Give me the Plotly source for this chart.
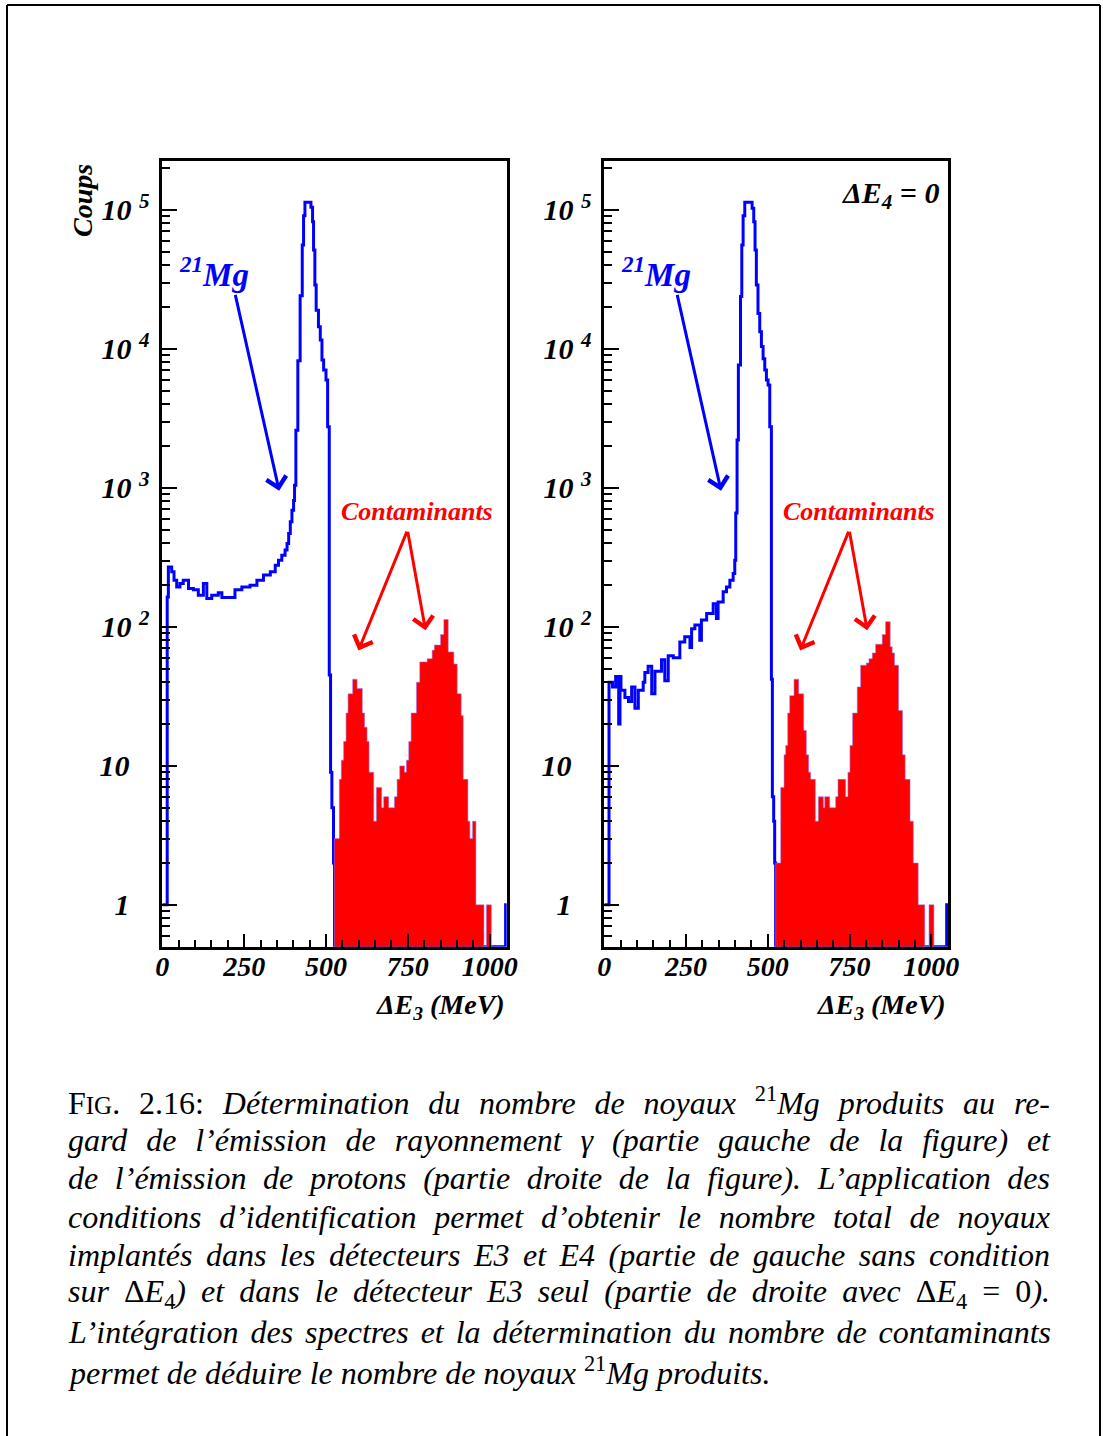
import numpy as np
import plotly.graph_objects as go

# ---- spectra: bin edges (MeV) and counts ----
# left panel : 21Mg implanted in E3 and E4 (no condition on dE4)
mg_all_edges = [0, 15, 18.5, 28.7, 35.8, 44, 54, 64, 80, 95,
                110, 125.5, 136, 151, 171, 182, 222, 243, 268, 289,
                309, 330, 345, 355, 365, 375, 381, 386, 391, 396,
                401, 404, 408, 414, 421, 427.5, 431.5, 435.7, 454, 459,
                462, 466, 470, 477, 482.6, 487.7, 492.8, 500, 505, 510,
                514, 518, 523, 526, 1048.6, 1054]
mg_all_counts = [1, 164, 270, 249, 217, 194, 205, 217, 189, 185,
                 169, 205, 160, 169, 176, 163, 185, 194, 199, 217,
                 236, 249, 278, 302, 328, 357, 398, 470, 570, 692,
                 813, 1047, 2600, 8220, 24150, 56000, 91000, 113600, 104500, 82400,
                 51500, 28800, 19000, 14450, 11600, 8320, 7050, 5970, 2755, 45,
                 9, 5, 2, 0, 1]
cont_all_edges = [525.4, 540.7, 546.8, 553.9, 561.3, 567.4, 581.5, 594.8, 611, 618,
                  625.4, 631.5, 645.8, 654, 670, 676.3, 691.6, 709, 717.2, 725.3,
                  739.6, 745.7, 752.8, 760, 776.3, 786.4, 809, 824.3, 831, 850,
                  860, 873.4, 890.6, 900.8, 913, 919.2, 933.5, 939.6, 947.7, 958,
                  982.5, 990, 1005]
cont_all_counts = [3, 8, 11, 15, 24, 33, 42, 36, 24, 19,
                   15, 9, 4, 7, 5, 6, 5, 6, 8, 10,
                   9, 11, 15, 24, 40, 56, 59, 68, 74, 88,
                   113, 66, 54, 33, 23, 8, 4, 3, 4, 1,
                   0, 1]

# right panel : dE4 = 0 (E3 only)
mg_e3_edges = [0, 14.4, 25, 34.7, 44, 48, 51, 63, 74, 83.6,
               93.7, 104, 119, 124, 134, 145, 155, 175, 185, 195.5,
               211, 231, 246, 262, 267, 277, 292, 297, 313, 333,
               343, 348, 363.5, 373.6, 384, 394, 399, 402, 406, 410,
               416.5, 420.5, 424.5, 429.6, 452, 457, 461, 465, 470, 475.4,
               480.5, 485.6, 490.7, 495.8, 500.8, 506, 511, 514, 518, 521,
               524, 1047, 1054]
mg_e3_counts = [1, 40, 37, 44, 20, 44, 35, 31, 29, 37,
                26, 35, 40, 47, 52, 33, 48, 58, 41, 62,
                60, 78, 85, 71, 97, 103, 80, 112, 125, 147,
                115, 151, 179, 194, 217, 242, 302, 660, 2210, 7650,
                23800, 56000, 91000, 113600, 103000, 82400, 51500, 28800, 18000, 13300,
                10400, 8510, 7050, 5970, 5500, 2755, 42, 6, 4, 2,
                0, 1]
cont_e3_edges = [524.3, 539.5, 549.7, 554.8, 560.9, 567, 580.2, 594.5, 609.8, 618,
                 625, 631.1, 645.4, 654.6, 670, 674, 689.2, 707.5, 714.6, 738,
                 745, 751.2, 759.3, 773.6, 783.8, 801.2, 809.3, 819.5, 829.7, 850,
                 860.2, 874.4, 880.5, 887.6, 900, 912, 920, 935, 945, 960,
                 980, 993, 1008]
cont_e3_counts = [2, 7, 12, 14, 24, 32, 42, 33, 18, 12,
                  9, 8, 4, 6, 5, 6, 5, 6, 8, 6,
                  9, 14, 24, 37, 53, 55, 59, 65, 75, 88,
                  109, 72, 65, 53, 25, 12, 8, 4, 2, 1,
                  0, 1]

x_ticks = [0, 250, 500, 750, 1000]
y_ticks = [1, 10, 100, 1000, 10000, 100000]
y_ticktext = ["1\u2002\u2006", "10\u2002\u2006", "10\u00a0<sup>2</sup>", "10\u00a0<sup>3</sup>",
              "10\u00a0<sup>4</sup>", "10\u00a0<sup>5</sup>"]

caption_lines = [
    "F<span style='font-size:25px'>IG</span>. 2.16: <i>Détermination du nombre de noyaux </i><sup>21</sup><i>Mg produits au re-</i>",
    "<i>gard de l’émission de rayonnement γ (partie gauche de la figure) et</i>",
    "<i>de l’émission de protons (partie droite de la figure). L’application des</i>",
    "<i>conditions d’identification permet d’obtenir le nombre total de noyaux</i>",
    "<i>implantés dans les détecteurs E3 et E4 (partie de gauche sans condition</i>",
    "<i>sur </i>Δ<i>E</i><sub>4</sub><i>) et dans le détecteur E3 seul (partie de droite avec </i>Δ<i>E</i><sub>4</sub> = 0<i>).</i>",
    "<i>L’intégration des spectres et la détermination du nombre de contaminants</i>",
    "<i>permet de déduire le nombre de noyaux </i><sup>21</sup><i>Mg produits.</i>",
]

W, H = 1103, 1436
XMAX = 1052
YMIN, YMAX = 0.5, 2.25e5
BLUE, RED = "#0000ff", "#ff0000"
SERIF = "Liberation Serif"
root_font = dict(family=SERIF, size=28, color="black", weight="bold", style="italic")


def px_x(p):
    return p / W


def px_y(p):
    return 1 - p / H


fig = go.Figure()


def add_panel(edges, counts, c_edges, c_counts, xa, ya):
    # blue outline histogram (empty bins drawn on the frame, as ROOT does)
    y = [c if c > 0 else YMIN for c in counts]
    fig.add_trace(go.Scatter(x=edges, y=y + [y[-1]], mode="lines", line_shape="hv",
                             line=dict(color=BLUE, width=3), xaxis=xa, yaxis=ya,
                             hoverinfo="skip"))
    # red filled histogram of the contaminants, closed down to the frame
    e = np.asarray(c_edges, dtype=float)
    c = np.where(np.asarray(c_counts) > 0, c_counts, YMIN)
    xs = np.concatenate([[e[0]], np.repeat(e, 2)[1:-1], [e[-1]]])
    ys = np.concatenate([[YMIN], np.repeat(c, 2), [YMIN]])
    fig.add_trace(go.Scatter(x=xs, y=ys, mode="lines", fill="toself", fillcolor=RED,
                             line=dict(color="rgba(150,120,255,0.55)", width=1),
                             xaxis=xa, yaxis=ya, hoverinfo="skip"))


add_panel(mg_all_edges, mg_all_counts, cont_all_edges, cont_all_counts, "x", "y")
add_panel(mg_e3_edges, mg_e3_counts, cont_e3_edges, cont_e3_counts, "x2", "y2")

minor_y = [m * 10.0 ** k for k in range(-1, 6) for m in range(2, 10)
           if YMIN < m * 10.0 ** k < YMAX]

xaxis_style = dict(range=[0, XMAX], tickvals=x_ticks, ticks="inside", ticklen=13, tickwidth=2,
                   tickcolor="black", minor=dict(dtick=50, tick0=0, ticks="inside", ticklen=7,
                                                 tickwidth=1.5, tickcolor="black"),
                   showline=True, linewidth=2.5, linecolor="black", mirror=True,
                   showgrid=False, zeroline=False, tickfont=root_font, ticklabelstandoff=-7,
                   automargin=False)
yaxis_style = dict(type="log", range=[np.log10(YMIN), np.log10(YMAX)], tickvals=y_ticks,
                   ticktext=y_ticktext, ticks="inside", ticklen=15, tickwidth=2, tickcolor="black",
                   minor=dict(tickvals=minor_y, ticks="inside", ticklen=8, tickwidth=1.5,
                              tickcolor="black"),
                   showline=True, linewidth=2.5, linecolor="black", mirror=True,
                   showgrid=False, zeroline=False, tickfont=dict(root_font, size=30),
                   ticklabelstandoff=4, automargin=False)

y_dom = [px_y(946.7), px_y(161)]
fig.update_layout(
    width=W, height=H, autosize=False,
    margin=dict(l=0, r=0, t=0, b=0, pad=0, autoexpand=False),
    paper_bgcolor="white", plot_bgcolor="white", showlegend=False,
    xaxis=dict(xaxis_style, domain=[px_x(162.3), px_x(506.7)], anchor="y"),
    yaxis=dict(yaxis_style, domain=y_dom, anchor="x"),
    xaxis2=dict(xaxis_style, domain=[px_x(604.3), px_x(948.3)], anchor="y2"),
    yaxis2=dict(yaxis_style, domain=y_dom, anchor="x2"),
)

ann = []
for xr, yr in [("x", "y"), ("x2", "y2")]:
    # 21Mg label and arrow
    ann.append(dict(xref=xr, yref=yr, x=46, y=4.55, text="<sup>21</sup>Mg", showarrow=False,
                    xanchor="left", yanchor="middle",
                    font=dict(root_font, size=33, color=BLUE)))
    ann.append(dict(xref=xr, yref=yr, axref=xr, ayref=yr, x=357, y=2.98, ax=222, ay=4.40,
                    text="", showarrow=True, arrowhead=4, arrowsize=1.3, arrowwidth=3,
                    arrowcolor=BLUE))
    # contaminants label and arrows
    ann.append(dict(xref=xr, yref=yr, x=779, y=2.833, text="Contaminants", showarrow=False,
                    xanchor="center", yanchor="middle",
                    font=dict(root_font, size=26, color=RED)))
    for hx, hy in [(599, 1.83), (804, 1.976)]:
        ann.append(dict(xref=xr, yref=yr, axref=xr, ayref=yr, x=hx, y=hy, ax=749, ay=2.696,
                        text="", showarrow=True, arrowhead=4, arrowsize=1.3, arrowwidth=3,
                        arrowcolor=RED))
    # x axis title
    ann.append(dict(xref=xr + " domain", yref="paper", x=1.0, y=px_y(1006),
                    text="ΔE<sub>3</sub> (MeV)", showarrow=False, xanchor="right",
                    yanchor="middle", font=root_font))

ann.append(dict(xref="x2", yref="y2", x=1030, y=5.11, text="ΔE<sub>4</sub> = 0",
                showarrow=False, xanchor="right", yanchor="middle",
                font=dict(root_font, size=30)))
ann.append(dict(xref="paper", yref="paper", x=px_x(82), y=px_y(201), text="Coups",
                textangle=-90, showarrow=False, xanchor="center", yanchor="middle",
                font=root_font))

# figure caption (justified afterwards in the page, like the LaTeX original)
cap_start = len(ann)
for i, line in enumerate(caption_lines):
    ann.append(dict(xref="paper", yref="paper", x=px_x(66), y=px_y(1101 + 38.5 * i),
                    text=line, showarrow=False, xanchor="left", yanchor="middle", align="left",
                    font=dict(family=SERIF, size=32, color="black")))
justified = list(range(cap_start, cap_start + len(caption_lines) - 1))

fig.update_layout(annotations=ann)

# page frame
frame = dict(type="line", xref="paper", yref="paper", line=dict(color="black", width=2))
fig.update_layout(shapes=[
    dict(frame, x0=px_x(7), x1=px_x(1100), y0=px_y(5), y1=px_y(5)),
    dict(frame, x0=px_x(7), x1=px_x(7), y0=px_y(5), y1=0),
    dict(frame, x0=px_x(1100), x1=px_x(1100), y0=px_y(5), y1=0),
])

post = """
document.body.style.margin = '0';
document.body.style.overflow = 'hidden';
var gd = document.getElementById('{plot_id}');
function justify() {
  __IDX__.forEach(function (k) {
    var t = gd.querySelector('g.annotation[data-index="' + k + '"] text.annotation-text');
    if (!t) return;
    t.style.wordSpacing = '0px';
    var n = (t.textContent.match(/ /g) || []).length;
    var L = t.getComputedTextLength();
    if (n > 0) t.style.wordSpacing = ((__TARGET__ - L) / n) + 'px';
  });
}
justify();
gd.on('plotly_afterplot', justify);
""".replace("__IDX__", str(justified)).replace("__TARGET__", str(1048 - 66))

fig.write_html("out.html", post_script=post, config={"displayModeBar": False})
